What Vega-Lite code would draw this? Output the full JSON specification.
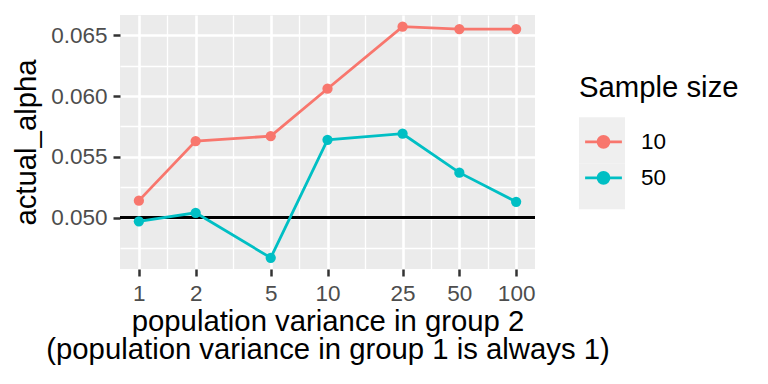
{
  "$schema": "https://vega.github.io/schema/vega-lite/v6.json",
  "autosize": "none",
  "width": 415,
  "height": 254,
  "padding": {"left": 120, "top": 15, "right": 233, "bottom": 115},
  "background": "white",
  "data": {
    "values": [
      {"var": 1, "n": "10", "alpha": 0.0514},
      {"var": 2, "n": "10", "alpha": 0.0563},
      {"var": 5, "n": "10", "alpha": 0.0567},
      {"var": 10, "n": "10", "alpha": 0.0606},
      {"var": 25, "n": "10", "alpha": 0.0657},
      {"var": 50, "n": "10", "alpha": 0.0655},
      {"var": 100, "n": "10", "alpha": 0.0655},
      {"var": 1, "n": "50", "alpha": 0.0497},
      {"var": 2, "n": "50", "alpha": 0.0504},
      {"var": 5, "n": "50", "alpha": 0.0467},
      {"var": 10, "n": "50", "alpha": 0.0564},
      {"var": 25, "n": "50", "alpha": 0.0569},
      {"var": 50, "n": "50", "alpha": 0.0537},
      {"var": 100, "n": "50", "alpha": 0.0513}
    ]
  },
  "layer": [
    {
      "mark": {"type": "line", "strokeWidth": 0, "strokeOpacity": 0},
      "encoding": {
        "x": {"field": "var", "type": "quantitative",
          "scale": {"type": "log", "domain": [0.7943, 125.89], "nice": false, "zero": false},
          "axis": {
            "values": [1, 1.4142, 2, 3.1623, 5, 7.0711, 10, 15.811, 25, 35.355, 50, 70.711, 100],
            "labelExpr": "indexof([1,2,5,10,25,50,100], datum.value) >= 0 ? format(datum.value, 'd') : ''",
            "grid": true, "gridColor": "white",
            "gridWidth": {"condition": {"test": "indexof([1,2,5,10,25,50,100], datum.value) >= 0", "value": 2.6}, "value": 1.3},
            "tickOpacity": {"condition": {"test": "indexof([1,2,5,10,25,50,100], datum.value) >= 0", "value": 1}, "value": 0},
            "title": ["population variance in group 2", "(population variance in group 1 is always 1)"]
          }},
        "y": {"field": "alpha", "type": "quantitative",
          "scale": {"domain": [0.04578, 0.06666], "nice": false, "zero": false},
          "axis": {
            "orient": "left",
            "values": [0.05, 0.055, 0.06, 0.065],
            "format": ".3f",
            "grid": true, "gridColor": "white", "gridWidth": 2.6,
            "title": "actual_alpha"
          }},
        "color": {"field": "n", "type": "nominal", "scale": {"range": ["#F8766D", "#00BFC4"]},
          "legend": {"orient": "none", "legendX": 459, "legendY": 59, "zindex": 0, "title": "Sample size", "titleColor": "transparent", "labelColor": "transparent", "symbolType": "square", "symbolSize": 2116, "symbolStrokeWidth": 0,
            "encode": {"symbols": {"update": {"fill": {"value": "#EFEFEF"}, "fillOpacity": {"value": 1}, "strokeWidth": {"value": 0}, "size": {"value": 2116}}}}}}
      }
    },
    {
      "mark": {"type": "rule", "color": "black", "strokeWidth": 2.8},
      "encoding": {
        "y": {"datum": 0.05, "type": "quantitative",
          "axis": {
            "orient": "left",
            "values": [0.0475, 0.0525, 0.0575, 0.0625],
            "grid": true, "gridColor": "white", "gridWidth": 1.3,
            "labels": false, "ticks": false, "domain": false, "title": null
          }}
      }
    },
    {
      "mark": {"type": "line", "strokeWidth": 2.8},
      "encoding": {
        "x": {"field": "var", "type": "quantitative"},
        "y": {"field": "alpha", "type": "quantitative", "axis": null},
        "color": {"field": "n", "type": "nominal",
          "legend": {"orient": "none", "legendX": 459, "legendY": 59, "zindex": 1, "title": "Sample size", "symbolType": "M-0.8,0H0.8M0.24,0A0.24,0.24 0 1,1 -0.24,0A0.24,0.24 0 1,1 0.24,0Z", "symbolSize": 2116, "symbolStrokeWidth": 2.8,
            "encode": {"symbols": {"update": {"fill": {"scale": "color", "field": "value"}, "fillOpacity": {"value": 1}, "size": {"value": 2116}}}}}}
      }
    },
    {
      "mark": {"type": "point", "filled": true, "size": 105, "opacity": 1},
      "encoding": {
        "x": {"field": "var", "type": "quantitative"},
        "y": {"field": "alpha", "type": "quantitative", "axis": null},
        "color": {"field": "n", "type": "nominal", "legend": null}
      }
    }
  ],
  "resolve": {"legend": {"color": "independent"}, "axis": {"y": "independent"}},
  "config": {
    "font": "Liberation Sans",
    "view": {"fill": "#EBEBEB", "stroke": null},
    "axis": {
      "domain": false,
      "tickColor": "#333333",
      "tickWidth": 2.5,
      "tickSize": 7,
      "labelPadding": 6,
      "labelFontSize": 22.5,
      "labelColor": "#4D4D4D",
      "titleFontSize": 29.3,
      "titleFontWeight": "normal",
      "titleColor": "black",
      "titleLineHeight": 28
    },
    "axisX": {"titlePadding": 3, "labelFlush": false},
    "axisY": {"titlePadding": 9},
    "legend": {
      "padding": 0,
      "titleFontSize": 29.3,
      "titleFontWeight": "normal",
      "titleColor": "black",
      "titlePadding": 14,
      "labelFontSize": 22.5,
      "labelColor": "black",
      "labelOffset": 13,
      "rowPadding": 0
    }
  }
}
